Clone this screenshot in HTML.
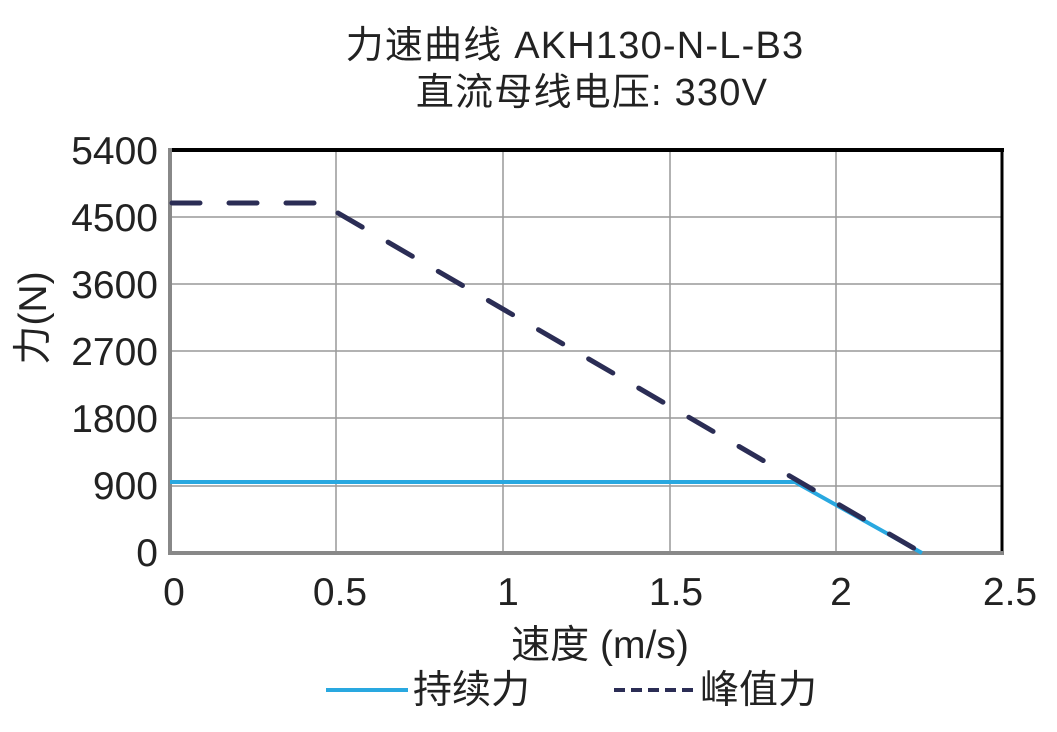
<!DOCTYPE html>
<html><head><meta charset="utf-8"><style>
html,body{margin:0;padding:0;background:#fff;}
svg text{font-family:"Liberation Sans","Noto Sans CJK SC",sans-serif;fill:#222;}
</style></head><body>
<svg width="1057" height="727" viewBox="0 0 1057 727" xmlns="http://www.w3.org/2000/svg">
<text x="575" y="58" font-size="38" text-anchor="middle" letter-spacing="1.2">力速曲线 AKH130-N-L-B3</text>
<text x="592" y="105" font-size="38" text-anchor="middle" letter-spacing="1.2">直流母线电压: 330V</text>
<g stroke="#999" stroke-width="1.5">
<line x1="336" y1="150" x2="336" y2="553"/><line x1="503" y1="150" x2="503" y2="553"/>
<line x1="670" y1="150" x2="670" y2="553"/><line x1="836" y1="150" x2="836" y2="553"/>
<line x1="170" y1="217" x2="1002" y2="217"/><line x1="170" y1="284" x2="1002" y2="284"/>
<line x1="170" y1="351" x2="1002" y2="351"/><line x1="170" y1="418" x2="1002" y2="418"/>
<line x1="170" y1="486" x2="1002" y2="486"/>
</g>
<line x1="170" y1="150" x2="1004" y2="150" stroke="#000" stroke-width="4"/>
<line x1="1002" y1="150" x2="1002" y2="555" stroke="#000" stroke-width="3"/>
<line x1="170" y1="148" x2="170" y2="555" stroke="#888" stroke-width="4"/>
<line x1="168" y1="553" x2="1003" y2="553" stroke="#888" stroke-width="4"/>
<polyline points="170,482 795,482 922,553" fill="none" stroke="#29a8e0" stroke-width="4"/>
<line x1="172" y1="203" x2="335" y2="203" stroke="#2b2d55" stroke-width="5" stroke-linecap="round" stroke-dasharray="28,29"/>
<line x1="338" y1="213" x2="922" y2="553" stroke="#2b2d55" stroke-width="5" stroke-linecap="round" stroke-dasharray="28,30"/>
<g font-size="39" text-anchor="end">
<text x="158" y="164">5400</text><text x="158" y="231">4500</text><text x="158" y="298">3600</text>
<text x="158" y="365">2700</text><text x="158" y="432">1800</text><text x="158" y="499">900</text>
<text x="158" y="566">0</text>
</g>
<g font-size="39" text-anchor="middle">
<text x="174" y="605">0</text><text x="340" y="605">0.5</text><text x="508" y="605">1</text>
<text x="676" y="605">1.5</text><text x="841" y="605">2</text><text x="1010" y="605">2.5</text>
</g>
<text x="600" y="658" font-size="39" text-anchor="middle">速度 (m/s)</text>
<text transform="translate(46,318) rotate(-90)" font-size="39" text-anchor="middle">力(N)</text>
<line x1="326" y1="690" x2="408" y2="690" stroke="#29a8e0" stroke-width="4"/>
<text x="413" y="703" font-size="39">持续力</text>
<line x1="614" y1="690" x2="694" y2="690" stroke="#2b2d55" stroke-width="4" stroke-dasharray="11,6"/>
<text x="700" y="703" font-size="39">峰值力</text>
</svg>
</body></html>
